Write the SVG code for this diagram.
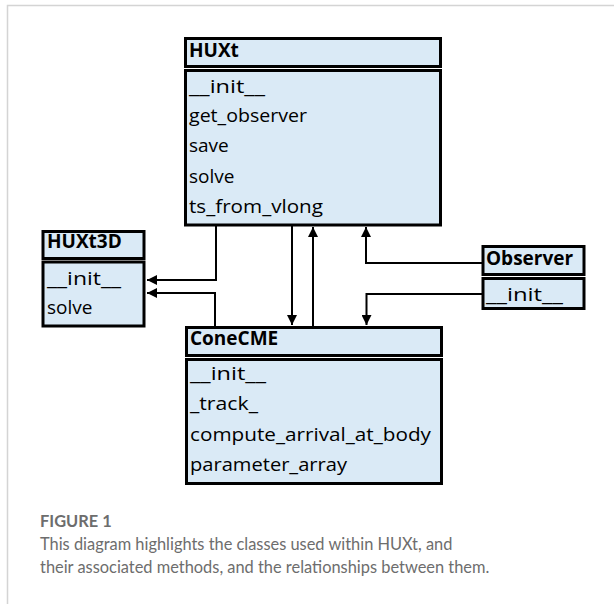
<svg xmlns="http://www.w3.org/2000/svg" width="614" height="604" viewBox="0 0 614 604">
<style>
.box{fill:#DAEAF6;stroke:#000;stroke-width:3}
.t{font-family:"Open Sans","Noto Sans",sans-serif;font-size:19px;fill:#000}
.h{font-weight:bold}
.c{stroke:#000;stroke-width:2;fill:none;marker-end:url(#ah)}
.cap{font-family:Lato,"Open Sans",sans-serif;font-size:16.4px;fill:#6d6d6d}
</style>
<defs>
<marker id="ah" markerUnits="userSpaceOnUse" markerWidth="10" markerHeight="10" refX="10" refY="5" orient="auto">
<path d="M0,0 L10,5 L0,10 z" fill="#000"/>
</marker>
</defs>
<rect width="614" height="604" fill="#fff"/>
<path d="M7.5,604 V5.5 H614" fill="none" stroke="#d4d4d4" stroke-width="1.5"/>
<g id="connectors">
<path class="c" d="M216,226 V280 H147"/>
<path class="c" d="M215,326 V293 H147"/>
<path class="c" d="M292,226 V325"/>
<path class="c" d="M313,326 V227"/>
<path class="c" d="M482,263 H366 V227"/>
<path class="c" d="M482,294 H366.5 V325"/>
</g>
<g id="HUXt">
<rect class="box" x="185.5" y="38.5" width="255" height="28"/>
<rect class="box" x="185.5" y="70.5" width="255" height="154.5"/>
<text class="t h" x="189" y="57">HUXt</text>
<text class="t" x="189" y="93" textLength="76" lengthAdjust="spacingAndGlyphs">__init__</text>
<text class="t" x="189" y="122" textLength="118" lengthAdjust="spacingAndGlyphs">get_observer</text>
<text class="t" x="189" y="152">save</text>
<text class="t" x="189" y="183">solve</text>
<text class="t" x="189" y="213" textLength="134" lengthAdjust="spacingAndGlyphs">ts_from_vlong</text>
</g>
<g id="HUXt3D">
<rect class="box" x="43" y="231.5" width="101" height="27"/>
<rect class="box" x="43" y="262" width="101" height="64"/>
<text class="t h" x="47" y="248">HUXt3D</text>
<text class="t" x="47" y="285" textLength="74" lengthAdjust="spacingAndGlyphs">__init__</text>
<text class="t" x="47" y="314">solve</text>
</g>
<g id="Observer">
<rect class="box" x="483" y="246.5" width="101" height="28"/>
<rect class="box" x="483" y="278.5" width="101" height="30"/>
<text class="t h" x="486" y="265">Observer</text>
<text class="t" x="486" y="301" textLength="77" lengthAdjust="spacingAndGlyphs">__init__</text>
</g>
<g id="ConeCME">
<rect class="box" x="186.5" y="327.5" width="255" height="28"/>
<rect class="box" x="186.5" y="359.5" width="255" height="124"/>
<text class="t h" x="190" y="345">ConeCME</text>
<text class="t" x="190" y="380" textLength="76" lengthAdjust="spacingAndGlyphs">__init__</text>
<text class="t" x="190" y="410" textLength="68" lengthAdjust="spacingAndGlyphs">_track_</text>
<text class="t" x="190" y="441" textLength="241" lengthAdjust="spacingAndGlyphs">compute_arrival_at_body</text>
<text class="t" x="190" y="471" textLength="157" lengthAdjust="spacingAndGlyphs">parameter_array</text>
</g>
<g id="caption">
<text class="cap" x="40" y="527" font-weight="bold">FIGURE 1</text>
<text class="cap" x="40" y="550">This diagram highlights the classes used within HUXt, and</text>
<text class="cap" x="40" y="573">their associated methods, and the relationships between them.</text>
</g>
</svg>
